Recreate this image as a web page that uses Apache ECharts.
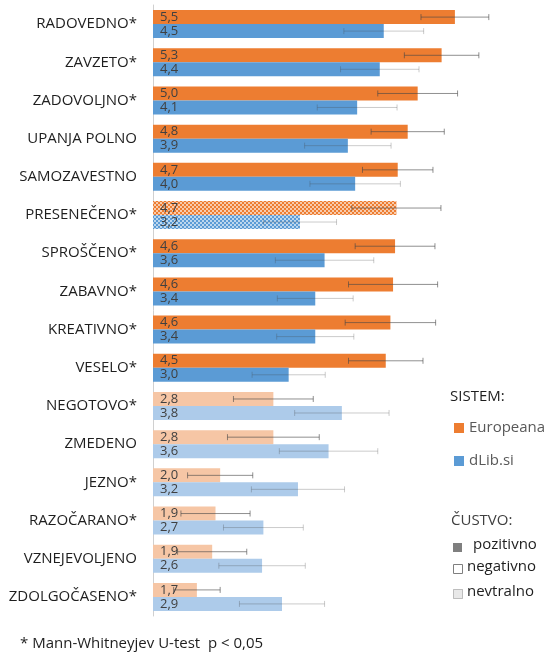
<!DOCTYPE html>
<html>
<head>
<meta charset="utf-8">
<script src="https://cdn.jsdelivr.net/npm/echarts@6/dist/echarts.min.js"></script>
<style>html,body{margin:0;padding:0;background:#fff;}#c{width:544px;height:656px;}</style>
</head>
<body>
<div id="c"></div>
<script>
const categories = ['RADOVEDNO*','ZAVZETO*','ZADOVOLJNO*','UPANJA POLNO','SAMOZAVESTNO','PRESENEČENO*','SPROŠČENO*','ZABAVNO*','KREATIVNO*','VESELO*','NEGOTOVO*','ZMEDENO','JEZNO*','RAZOČARANO*','VZNEJEVOLJENO','ZDOLGOČASENO*'];
const emotion = ['pozitivno','pozitivno','pozitivno','pozitivno','pozitivno','nevtralno','pozitivno','pozitivno','pozitivno','pozitivno','negativno','negativno','negativno','negativno','negativno','negativno'];
const europeana = [5.54,5.34,4.98,4.83,4.68,4.66,4.64,4.61,4.57,4.50,2.81,2.81,2.01,1.94,1.89,1.66];
const dlib = [4.47,4.41,4.07,3.93,4.04,3.21,3.58,3.44,3.44,3.04,3.84,3.64,3.18,2.66,2.64,2.94];
const europeanaErr = [0.51,0.56,0.60,0.55,0.53,0.67,0.60,0.67,0.68,0.56,0.60,0.69,0.49,0.52,0.52,0.35];
const dlibErr = [0.60,0.59,0.60,0.65,0.68,0.55,0.74,0.57,0.58,0.55,0.71,0.74,0.70,0.60,0.65,0.64];

const FONT = '"Open Sans", sans-serif';
const palette = {
  Europeana: {pozitivno:'#ED7D31', negativno:'#F6C6A5', nevtralno:'#ED7D31'},
  'dLib.si': {pozitivno:'#5B9BD5', negativno:'#ADCBEA', nevtralno:'#5B9BD5'}
};
const decal = {symbol:'rect', symbolSize:1, dashArrayX:[[2,2],[0,2,2,0]], dashArrayY:[2,0], color:'rgba(255,255,255,0.6)'};

function barData(name, vals){
  return vals.map((v,i)=>{
    const it = {value:v, itemStyle:{color:palette[name][emotion[i]]}};
    if (emotion[i]==='nevtralno') it.itemStyle.decal = decal;
    return it;
  });
}
const BW = 14;
function errSeries(vals, errs, offset, color){
  return {
    type:'custom', name:'err'+offset, z:10, silent:true,
    encode:{x:0, y:1},
    data: vals.map((v,i)=>[v, i, errs[i]]),
    renderItem:function(params, api){
      const v = api.value(0), c = api.value(1), e = api.value(2);
      const p1 = api.coord([v-e, c]), p2 = api.coord([v+e, c]);
      const y = p1[1] + offset;
      const st = {stroke:color, lineWidth:1};
      return {type:'group', children:[
        {type:'line', shape:{x1:p1[0],y1:y,x2:p2[0],y2:y}, style:st},
        {type:'line', shape:{x1:p1[0],y1:y-3,x2:p1[0],y2:y+3}, style:st},
        {type:'line', shape:{x1:p2[0],y1:y-3,x2:p2[0],y2:y+3}, style:st}
      ]};
    }
  };
}
const labelFmt = p => p.value.toFixed(1).replace('.', ',');

const chart = echarts.init(document.getElementById('c'));
chart.setOption({
  animation:false,
  textStyle:{fontFamily:FONT},
  grid:{left:153, top:5, width:332.5, height:611},
  xAxis:{type:'value', min:1, max:6, startValue:1, show:false},
  yAxis:{type:'category', data:categories, inverse:true,
    axisLine:{show:true, lineStyle:{color:'#d0d0d0', width:1}},
    axisTick:{show:false},
    axisLabel:{fontFamily:FONT, fontSize:15, color:'#1e1e1e', margin:16}},
  legend:{orient:'vertical', left:449, top:413, data:['Europeana','dLib.si'],
    itemWidth:10, itemHeight:10, itemGap:13, icon:'rect',
    textStyle:{fontFamily:FONT, fontSize:15, color:'#595959', lineHeight:20}},
  series:[
    {type:'bar', name:'Europeana', color:'#ED7D31', barWidth:BW, barGap:'0%', data:barData('Europeana', europeana),
     label:{show:true, position:'insideLeft', distance:7, formatter:labelFmt, fontFamily:FONT, fontSize:13, color:'#404040'}},
    {type:'bar', name:'dLib.si', color:'#5B9BD5', barWidth:BW, barGap:'0%', data:barData('dLib.si', dlib),
     label:{show:true, position:'insideLeft', distance:7, formatter:labelFmt, fontFamily:FONT, fontSize:13, color:'#404040'}},
    errSeries(europeana, europeanaErr, -BW/2, 'rgba(70,70,70,0.6)'),
    errSeries(dlib, dlibErr, BW/2, 'rgba(70,70,70,0.28)')
  ],
  graphic:[
    {type:'text', left:450, top:389, style:{text:'SISTEM:', font:'15px "Open Sans", sans-serif', fill:'#1e1e1e'}},
    {type:'text', left:451, top:513, style:{text:'ČUSTVO:', font:'15px "Open Sans", sans-serif', fill:'#404040'}},
    {type:'rect', shape:{x:453, y:543, width:9, height:9}, style:{fill:'#7f7f7f'}},
    {type:'text', left:473, top:537, style:{text:'pozitivno', font:'15px "Open Sans", sans-serif', fill:'#1e1e1e'}},
    {type:'rect', shape:{x:453.5, y:564.5, width:9, height:9}, style:{fill:'#fff', stroke:'#7f7f7f', lineWidth:1}},
    {type:'text', left:467, top:559, style:{text:'negativno', font:'15px "Open Sans", sans-serif', fill:'#1e1e1e'}},
    {type:'rect', shape:{x:453.5, y:589.5, width:9, height:9}, style:{fill:'#e8e8e8', stroke:'#bdbdbd', lineWidth:1, decal:{symbol:'rect', symbolSize:1, dashArrayX:[[1,1],[0,1,1,0]], dashArrayY:[1,0], color:'#c8c8c8'}}},
    {type:'text', left:467, top:584, style:{text:'nevtralno', font:'15px "Open Sans", sans-serif', fill:'#1e1e1e'}},
    {type:'text', left:20, top:636, style:{text:'* Mann-Whitneyjev U-test  p < 0,05', font:'15px "Open Sans", sans-serif', fill:'#1e1e1e'}}
  ]
});
</script>
</body>
</html>
